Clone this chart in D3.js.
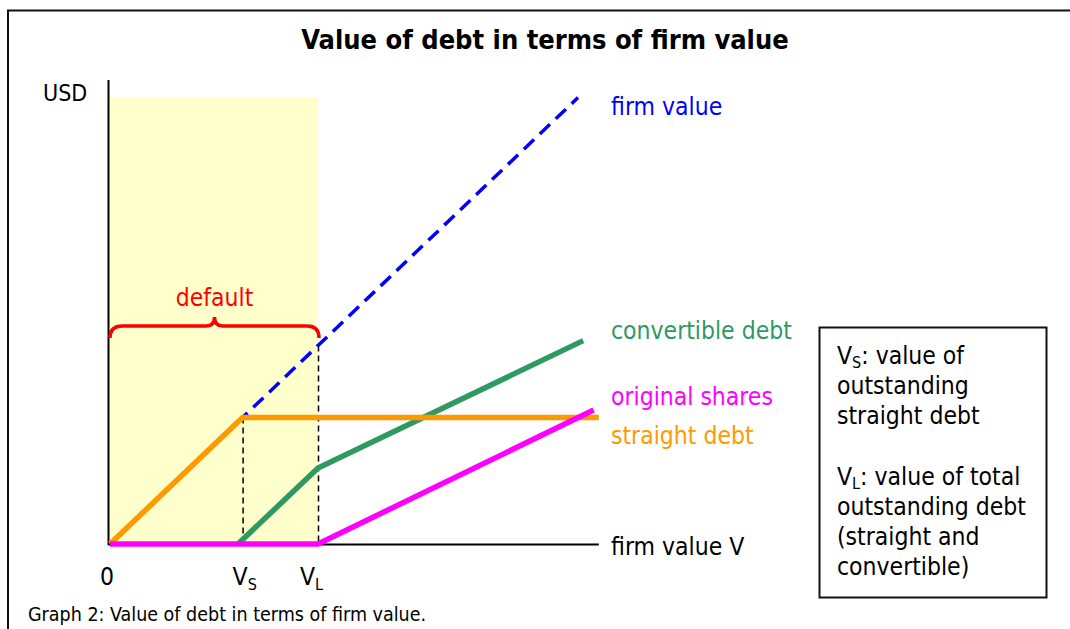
<!DOCTYPE html>
<html>
<head>
<meta charset="utf-8">
<script src="https://cdn.jsdelivr.net/npm/d3@7"></script>
<style>
	body { margin: 0; background: #fff; }
	svg { display: block; font-family: Tahoma, 'DejaVu Sans Condensed', 'DejaVu Sans', sans-serif; }
</style>
</head>
<body>
<svg id="chart" width="1070" height="629"></svg>
<script>
// values in abstract firm-value units (Vs = straight debt, Vl = total debt)
const Vs = 25.5
const Vl = 40
const firmValue = [[0, 0], [90, 90]]
const straightDebt = [[0, 0], [Vs, Vs], [94, Vs]]
const convertibleDebt = [[24.6, 0], [Vl, 15.3], [91, 41]]
const originalShares = [[0, 0], [Vl, 0], [93, 27]]
const xTicks = [{ v: 0, main: '0', sub: '' }, { v: Vs, main: 'V', sub: 'S' }, { v: Vl, main: 'V', sub: 'L' }]
const seriesLabels = [
	{ text: 'firm value', color: '#0000ff', y: 115 },
	{ text: 'convertible debt', color: '#2e9a62', y: 339 },
	{ text: 'original shares', color: '#ff00ff', y: 405 },
	{ text: 'straight debt', color: '#ff9900', y: 444 },
	{ text: 'firm value V', color: '#000', y: 555 }
]
const noteLines = [
	['V', 'S', ': value of'], ['outstanding'], ['straight debt'], [''],
	['V', 'L', ': value of total'], ['outstanding debt'], ['(straight and'], ['convertible)']
]

const svg = d3.select('#chart')
const x = d3.scaleLinear().domain([0, 100]).range([110, 630])
const y = d3.scaleLinear().domain([0, 100]).range([544, 48])
const line = d3.line().x(d => x(d[0])).y(d => y(d[1]))
const fs = 24.5

// outer frame
svg.append('path')
	.attr('d', 'M8,640 V10.5 H1080')
	.attr('fill', 'none').attr('stroke', '#111').attr('stroke-width', 2)

svg.append('text')
	.attr('x', 545).attr('y', 49)
	.attr('text-anchor', 'middle')
	.attr('font-weight', 'bold').attr('font-size', 27)
	.text('Value of debt in terms of firm value')

// default region
svg.append('rect')
	.attr('x', x(0)).attr('y', y(90))
	.attr('width', x(Vl) - x(0)).attr('height', y(0) - y(90))
	.attr('fill', '#ffffcc')

// axes
svg.append('line').attr('x1', x(0) - 1.5).attr('x2', x(0) - 1.5).attr('y1', 80).attr('y2', y(0) + 1)
	.attr('stroke', '#000').attr('stroke-width', 2)
svg.append('line').attr('x1', x(0) - 2).attr('x2', x(94)).attr('y1', y(0) + 0.5).attr('y2', y(0) + 0.5)
	.attr('stroke', '#000').attr('stroke-width', 2)

svg.append('text').attr('x', 43).attr('y', 101).attr('font-size', 23).text('USD')

// dashed guides at Vs and Vl
;[[Vs, Vs], [Vl, Vl]].forEach(([v, top]) => {
	svg.append('line')
		.attr('x1', x(v) + 0.5).attr('x2', x(v) + 0.5)
		.attr('y1', y(top)).attr('y2', y(0))
		.attr('stroke', '#000').attr('stroke-width', 1.5).attr('stroke-dasharray', '6,4')
})

svg.append('path').attr('d', line(firmValue))
	.attr('fill', 'none').attr('stroke', '#0000ff').attr('stroke-width', 3.5).attr('stroke-dasharray', '14,8')
svg.append('path').attr('d', line(convertibleDebt))
	.attr('fill', 'none').attr('stroke', '#2e9a62').attr('stroke-width', 5.5)
svg.append('path').attr('d', line(straightDebt))
	.attr('fill', 'none').attr('stroke', '#ff9900').attr('stroke-width', 5.5)
svg.append('path').attr('d', line(originalShares))
	.attr('fill', 'none').attr('stroke', '#ff00ff').attr('stroke-width', 5.5)

// brace over default area
const bx0 = x(0), bx1 = x(Vl) + 1, bm = (bx0 + bx1) / 2, by = 326
svg.append('path')
	.attr('d', `M${bx0},${by + 12} Q${bx0},${by} ${bx0 + 12},${by} L${bm - 8},${by} Q${bm},${by} ${bm},${by - 9}` +
		` Q${bm},${by} ${bm + 8},${by} L${bx1 - 12},${by} Q${bx1},${by} ${bx1},${by + 12}`)
	.attr('fill', 'none').attr('stroke', '#ff0000').attr('stroke-width', 3.5)
svg.append('text').attr('x', bm).attr('y', 306).attr('text-anchor', 'middle')
	.attr('font-size', fs).attr('fill', '#ff0000').text('default')

seriesLabels.forEach(d => {
	svg.append('text').attr('x', 611).attr('y', d.y).attr('font-size', fs).attr('fill', d.color).text(d.text)
})

// x tick labels
const tickDx = [-10, -10, -18]
xTicks.forEach((t, i) => {
	const tx = svg.append('text').attr('x', x(t.v) + tickDx[i]).attr('y', 585).attr('font-size', fs)
	tx.append('tspan').text(t.main)
	if (t.sub) tx.append('tspan').attr('font-size', 16).attr('dy', 5).text(t.sub)
})

// note box
svg.append('rect').attr('x', 819.5).attr('y', 327.5).attr('width', 227).attr('height', 270)
	.attr('fill', 'none').attr('stroke', '#111').attr('stroke-width', 2)
noteLines.forEach((l, i) => {
	const t = svg.append('text').attr('x', 837).attr('y', 364 + i * 30.2).attr('font-size', fs)
	if (l.length === 3) {
		t.append('tspan').text(l[0])
		t.append('tspan').attr('font-size', 16).attr('dy', 4).text(l[1])
		t.append('tspan').attr('dy', -4).text(l[2])
	} else {
		t.text(l[0])
	}
})

svg.append('text').attr('x', 28).attr('y', 621).attr('font-size', 19.5).text('Graph 2: Value of debt in terms of firm value.')
</script>
</body>
</html>
